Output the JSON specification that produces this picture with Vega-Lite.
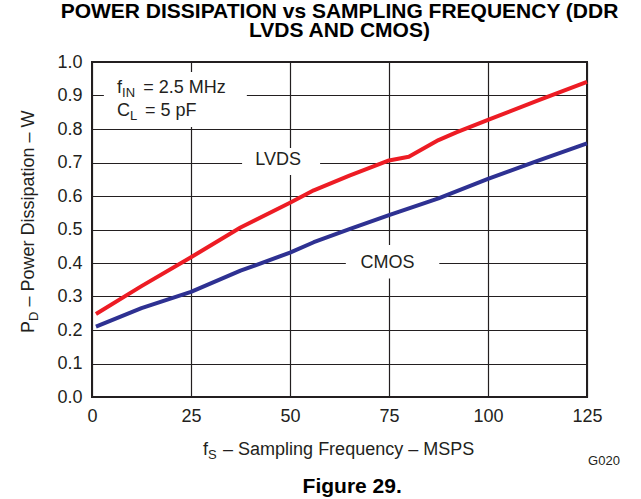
{
  "$schema": "https://vega.github.io/schema/vega-lite/v6.json",
  "width": 495,
  "height": 335,
  "autosize": {"type": "none"},
  "padding": {"left": 92, "top": 62, "right": 54, "bottom": 102},
  "background": "white",
  "config": {
    "font": "Liberation Sans",
    "view": {"stroke": "#231f20", "strokeWidth": 2},
    "axis": {
      "grid": true,
      "gridColor": "#231f20",
      "gridWidth": 1.2,
      "gridOpacity": 1,
      "domain": false,
      "ticks": false,
      "tickSize": 0,
      "labelFont": "Liberation Sans",
      "labelFontSize": 18,
      "labelColor": "#231f20",
      "labelPadding": 10,
      "labelFlush": false,
      "labelOverlap": false
    }
  },
  "title": {
    "text": ["POWER DISSIPATION vs SAMPLING FREQUENCY (DDR", "LVDS AND CMOS)"],
    "font": "Liberation Sans",
    "fontSize": 21,
    "fontWeight": "bold",
    "color": "#000000",
    "anchor": "middle",
    "frame": "group",
    "lineHeight": 19,
    "baseline": "bottom",
    "offset": -9
  },
  "datasets": {
    "curves": [
      {"series": "LVDS", "x": 1, "y": 0.248},
      {"series": "LVDS", "x": 12.5, "y": 0.331},
      {"series": "LVDS", "x": 25, "y": 0.417},
      {"series": "LVDS", "x": 37.5, "y": 0.506},
      {"series": "LVDS", "x": 50, "y": 0.58},
      {"series": "LVDS", "x": 56, "y": 0.617},
      {"series": "LVDS", "x": 65, "y": 0.661},
      {"series": "LVDS", "x": 75, "y": 0.706},
      {"series": "LVDS", "x": 80, "y": 0.717},
      {"series": "LVDS", "x": 87.5, "y": 0.767},
      {"series": "LVDS", "x": 92, "y": 0.79},
      {"series": "LVDS", "x": 100, "y": 0.827},
      {"series": "LVDS", "x": 112.5, "y": 0.885},
      {"series": "LVDS", "x": 125, "y": 0.941},
      {"series": "CMOS", "x": 1, "y": 0.21},
      {"series": "CMOS", "x": 12.5, "y": 0.265},
      {"series": "CMOS", "x": 25, "y": 0.314},
      {"series": "CMOS", "x": 37.5, "y": 0.377},
      {"series": "CMOS", "x": 50, "y": 0.431},
      {"series": "CMOS", "x": 56, "y": 0.462},
      {"series": "CMOS", "x": 65, "y": 0.501},
      {"series": "CMOS", "x": 75, "y": 0.543},
      {"series": "CMOS", "x": 87.5, "y": 0.593},
      {"series": "CMOS", "x": 100, "y": 0.651},
      {"series": "CMOS", "x": 112.5, "y": 0.705},
      {"series": "CMOS", "x": 125, "y": 0.757}
    ],
    "boxes": [
      {"x": 3.0, "x2": 39.1, "y": 0.806, "y2": 0.97},
      {"x": 37.9, "x2": 57.6, "y": 0.663, "y2": 0.743},
      {"x": 64.1, "x2": 87.7, "y": 0.354, "y2": 0.454}
    ],
    "labelsCenter": [
      {"x": 47.0, "y": 0.6925, "text": "LVDS"},
      {"x": 74.6, "y": 0.384, "text": "CMOS"}
    ],
    "textLeft": [
      {"x": 6.3, "y": 0.9066, "text": "f"},
      {"x": 12.95, "y": 0.9066, "text": "= 2.5 MHz"},
      {"x": 6.3, "y": 0.839, "text": "C"},
      {"x": 13.4, "y": 0.839, "text": "= 5 pF"},
      {"x": 28.0, "y": -0.173, "text": "f"},
      {"x": 33.1, "y": -0.173, "text": "– Sampling Frequency – MSPS"}
    ],
    "subLeft": [
      {"x": 7.6, "y": 0.9066, "text": "IN"},
      {"x": 9.6, "y": 0.839, "text": "L"},
      {"x": 29.3, "y": -0.173, "text": "S"}
    ],
    "yTitle": [
      {"x": -14.7, "y": 0.191, "text": "P"},
      {"x": -14.7, "y": 0.27, "text": "– Power Dissipation – W"}
    ],
    "yTitleSub": [
      {"x": -14.7, "y": 0.227, "text": "D"}
    ],
    "code": [
      {"x": 133.3, "y": -0.203, "text": "G020"}
    ],
    "figure": [
      {"x": 65.7, "y": -0.287, "text": "Figure 29."}
    ]
  },
  "encoding": {
    "x": {
      "field": "x", "type": "quantitative",
      "scale": {"domain": [0, 125], "nice": false},
      "axis": {"values": [0, 25, 50, 75, 100, 125], "title": null}
    },
    "y": {
      "field": "y", "type": "quantitative",
      "scale": {"domain": [0, 1], "nice": false},
      "axis": {"values": [0, 0.1, 0.2, 0.3, 0.4, 0.5, 0.6, 0.7, 0.8, 0.9, 1.0], "format": ".1f", "title": null}
    }
  },
  "layer": [
    {
      "data": {"name": "boxes"},
      "mark": {"type": "rect", "fill": "white"},
      "encoding": {
        "x2": {"field": "x2"},
        "y2": {"field": "y2"}
      }
    },
    {
      "data": {"name": "curves"},
      "mark": {"type": "line", "strokeWidth": 4, "interpolate": "linear", "strokeJoin": "round"},
      "encoding": {
        "color": {
          "field": "series", "type": "nominal",
          "scale": {"domain": ["LVDS", "CMOS"], "range": ["#ed1c24", "#2e3192"]},
          "legend": null
        }
      }
    },
    {
      "data": {"name": "labelsCenter"},
      "mark": {"type": "text", "align": "center", "baseline": "alphabetic", "fontSize": 18, "color": "#231f20"},
      "encoding": {"text": {"field": "text"}}
    },
    {
      "data": {"name": "textLeft"},
      "mark": {"type": "text", "align": "left", "baseline": "alphabetic", "fontSize": 18, "color": "#231f20"},
      "encoding": {"text": {"field": "text"}}
    },
    {
      "data": {"name": "subLeft"},
      "mark": {"type": "text", "align": "left", "baseline": "alphabetic", "fontSize": 13, "dy": 4, "color": "#231f20"},
      "encoding": {"text": {"field": "text"}}
    },
    {
      "data": {"name": "yTitle"},
      "mark": {"type": "text", "align": "left", "baseline": "alphabetic", "angle": 270, "fontSize": 18, "color": "#231f20"},
      "encoding": {"text": {"field": "text"}}
    },
    {
      "data": {"name": "yTitleSub"},
      "mark": {"type": "text", "align": "left", "baseline": "alphabetic", "angle": 270, "fontSize": 13, "dy": 4, "color": "#231f20"},
      "encoding": {"text": {"field": "text"}}
    },
    {
      "data": {"name": "code"},
      "mark": {"type": "text", "align": "right", "baseline": "alphabetic", "fontSize": 13, "color": "#231f20"},
      "encoding": {"text": {"field": "text"}}
    },
    {
      "data": {"name": "figure"},
      "mark": {"type": "text", "align": "center", "baseline": "alphabetic", "fontSize": 21, "fontWeight": "bold", "color": "#000000"},
      "encoding": {"text": {"field": "text"}}
    }
  ]
}
